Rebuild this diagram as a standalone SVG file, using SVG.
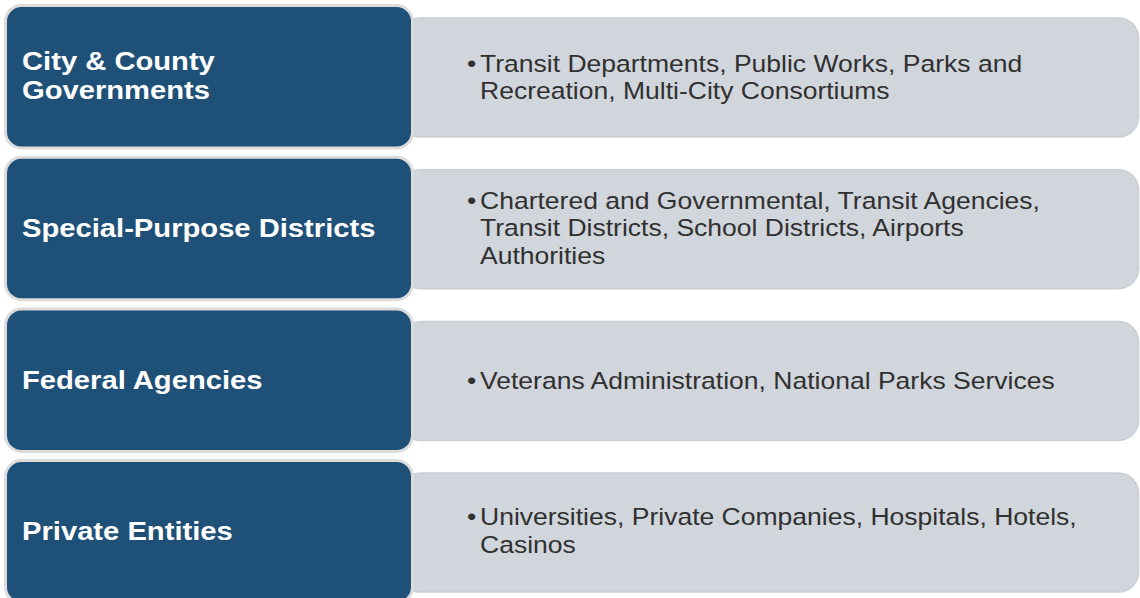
<svg xmlns="http://www.w3.org/2000/svg" width="1140" height="598" viewBox="0 0 1140 598">
  <style>
    .head { fill: #1f5078; stroke: #dcdcdc; stroke-width: 3; }
    .body { fill: #d1d5dc; stroke: #c9ced5; stroke-width: 1.5; }
    .label { font-family: "Liberation Sans", Arial, sans-serif; font-weight: bold; font-size: 25.6px; fill: #ffffff; }
    .item { font-family: "Liberation Sans", Arial, sans-serif; font-size: 24.5px; fill: #303030; }
  </style>
  <rect width="1140" height="598" fill="#ffffff"/>
  <g id="connectors"/>

  <!-- Row 1 -->
  <g id="row-city-county">
    <rect class="body" x="400" y="18" width="738.5" height="119" rx="20"/>
    <rect class="head" x="5.5" y="5.5" width="407" height="142.5" rx="16"/>
    <g transform="translate(22,0) scale(1.14,1)">
      <text class="label" x="0" y="70">City &amp; County</text>
      <text class="label" x="0" y="99">Governments</text>
    </g>
    <g transform="translate(480,0) scale(1.083,1)">
      <text class="item" x="-12" y="72">•</text>
      <text class="item" x="0" y="72">Transit Departments, Public Works, Parks and</text>
      <text class="item" x="0" y="99">Recreation, Multi-City Consortiums</text>
    </g>
  </g>

  <!-- Row 2 -->
  <g id="row-special-districts">
    <rect class="body" x="400" y="169.7" width="738.5" height="119" rx="20"/>
    <rect class="head" x="5.5" y="157.2" width="407" height="142.5" rx="16"/>
    <g transform="translate(22,0) scale(1.14,1)">
      <text class="label" x="0" y="237">Special-Purpose Districts</text>
    </g>
    <g transform="translate(480,0) scale(1.083,1)">
      <text class="item" x="-12" y="209">•</text>
      <text class="item" x="0" y="209">Chartered and Governmental, Transit Agencies,</text>
      <text class="item" x="0" y="236">Transit Districts, School Districts, Airports</text>
      <text class="item" x="0" y="264">Authorities</text>
    </g>
  </g>

  <!-- Row 3 -->
  <g id="row-federal">
    <rect class="body" x="400" y="321.4" width="738.5" height="119" rx="20"/>
    <rect class="head" x="5.5" y="308.9" width="407" height="142.5" rx="16"/>
    <g transform="translate(22,0) scale(1.14,1)">
      <text class="label" x="0" y="389">Federal Agencies</text>
    </g>
    <g transform="translate(480,0) scale(1.083,1)">
      <text class="item" x="-12" y="389">•</text>
      <text class="item" x="0" y="389">Veterans Administration, National Parks Services</text>
    </g>
  </g>

  <!-- Row 4 -->
  <g id="row-private">
    <rect class="body" x="400" y="473.1" width="738.5" height="119" rx="20"/>
    <rect class="head" x="5.5" y="460.6" width="407" height="142.5" rx="16"/>
    <g transform="translate(22,0) scale(1.14,1)">
      <text class="label" x="0" y="540">Private Entities</text>
    </g>
    <g transform="translate(480,0) scale(1.083,1)">
      <text class="item" x="-12" y="525">•</text>
      <text class="item" x="0" y="525">Universities, Private Companies, Hospitals, Hotels,</text>
      <text class="item" x="0" y="553">Casinos</text>
    </g>
  </g>
</svg>
